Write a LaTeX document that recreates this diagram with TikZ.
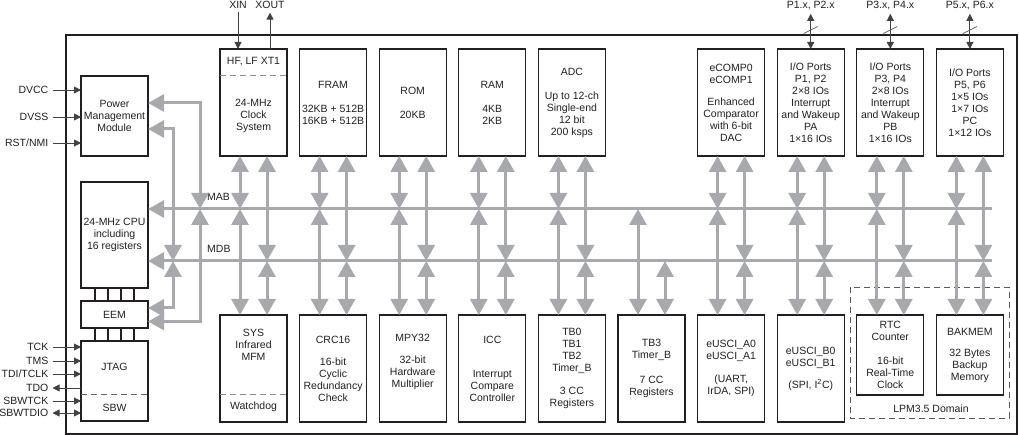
\documentclass[tikz,border=0pt]{standalone}
\usepackage{fontspec}
\setmainfont{Liberation Sans}
\usepackage{tikz}
\usetikzlibrary{positioning,arrows.meta}
\definecolor{ink}{HTML}{231F20}
\definecolor{busgray}{HTML}{A7A9AC}
\definecolor{dashgray}{HTML}{8C8C8C}
\tikzset{
  blk/.style={rectangle, draw=ink, line width=1.3pt, outer sep=0pt, inner sep=0pt,
              minimum width=67pt, minimum height=107pt, align=center, text=ink,
              font=\fontsize{10.5}{12}\selectfont},
  txt/.style={inner sep=0pt, align=center, text=ink, font=\fontsize{10.5}{12}\selectfont},
  pinlbl/.style={anchor=east, inner xsep=4pt, inner ysep=1pt, text=ink,
                 font=\fontsize{10.5}{12}\selectfont},
  toplbl/.style={anchor=base, inner sep=4pt, text=ink, font=\fontsize{10.5}{12}\selectfont},
  pinarr/.style={-{Triangle[length=7pt,width=7pt]}, draw=ink!85, line width=0.9pt},
  pinboth/.style={{Triangle[length=7pt,width=7pt]}-{Triangle[length=7pt,width=7pt]},
                  draw=ink!85, line width=0.9pt},
  slash/.style={draw=ink!70, line width=0.8pt},
  bus/.style={draw=busgray, line width=3pt},
  busarr/.style={bus, -{Triangle[length=16pt,width=17pt]}},
  busboth/.style={bus, {Triangle[length=16pt,width=17pt]}-{Triangle[length=16pt,width=17pt]}},
  sepline/.style={draw=dashgray, line width=1pt, dash pattern=on 6pt off 4pt},
  domainbox/.style={draw=ink!75, line width=0.9pt, dash pattern=on 6pt off 4pt},
  chip/.style={draw=ink, line width=2pt},
  jlink/.style={draw=ink, line width=1.2pt}
}
\begin{document}
\begin{tikzpicture}[x=1pt, y=-1pt, node distance=12.6pt]
\useasboundingbox (0,0) rectangle (1019,435);
\draw[chip] (66,35.5) rectangle (1016.5,433.5);
% upper row of modules
\node[blk, anchor=north west] (clk) at (220,49) {};
\node[blk, right=of clk] (fram) {FRAM\\[12pt]32KB + 512B\\16KB + 512B};
\node[blk, right=of fram] (rom) {ROM\\[12pt]20KB};
\node[blk, right=of rom] (ram) {RAM\\[12pt]4KB\\2KB};
\node[blk, right=of ram] (adc) {ADC\\[12pt]Up to 12-ch\\Single-end\\12 bit\\200 ksps};
\node[blk, right=92.2pt of adc] (ecomp) {eCOMP0\\eCOMP1\\[10pt]Enhanced\\Comparator\\with 6-bit\\DAC};
\node[blk, right=of ecomp] (iopa) {I/O Ports\\P1, P2\\2×8 IOs\\Interrupt\\and Wakeup\\PA\\1×16 IOs};
\node[blk, right=of iopa] (iopb) {I/O Ports\\P3, P4\\2×8 IOs\\Interrupt\\and Wakeup\\PB\\1×16 IOs};
\node[blk, right=of iopb] (iopc) {I/O Ports\\P5, P6\\1×5 IOs\\1×7 IOs\\PC\\1×12 IOs};
\node[txt] (xt1) at (clk.north |- 0,62) {HF, LF XT1};
\node[txt] (cs) at (clk.north |- 0,116) {24-MHz\\Clock\\System};
\draw[sepline] (clk.west |- 0,76) -- (clk.east |- 0,76);
% lower row of modules
\node[blk, below=159pt of clk] (sys) {};
\node[blk, right=of sys] (crc) {CRC16\\[10pt]16-bit\\Cyclic\\Redundancy\\Check};
\node[blk, right=of crc] (mpy) {MPY32\\[10pt]32-bit\\Hardware\\Multiplier\\\strut};
\node[blk, right=of mpy] (icc) {ICC\\[22pt]Interrupt\\Compare\\Controller};
\node[blk, right=of icc] (tb0) {TB0\\TB1\\TB2\\Timer\_B\\[11pt]3 CC\\Registers};
\node[blk, right=of tb0] (tb3) {TB3\\Timer\_B\\[13pt]7 CC\\Registers};
\node[blk, right=of tb3] (uca) {eUSCI\_A0\\eUSCI\_A1\\[11pt](UART,\\IrDA, SPI)};
\node[blk, right=of uca] (ucb) {eUSCI\_B0\\eUSCI\_B1\\[10pt](SPI, I\textsuperscript{2}C)};
\node[blk, minimum height=80pt, right=of ucb.north east, anchor=north west] (rtc) {RTC\\Counter\\[12pt]16-bit\\Real-Time\\Clock};
\node[blk, minimum height=80pt, right=of rtc] (bakmem) {BAKMEM\\[9pt]32 Bytes\\Backup\\Memory};
\node[txt] (sysmfm) at (sys.north |- 0,345) {SYS\\Infrared\\MFM};
\node[txt] (wdt) at (sys.north |- 0,407) {Watchdog};
\draw[sepline] (sys.west |- 0,394) -- (sys.east |- 0,394);
\draw[domainbox] (850,287) rectangle (1009,418);
\node[txt] (lpm) at (931,409) {LPM3.5 Domain};
% left column
\node[blk, minimum height=80pt, anchor=north west] (pmm) at (81,76) {Power\\Management\\Module};
\node[blk, minimum height=106pt, below=26pt of pmm] (cpu) {24-MHz CPU\\including\\16 registers};
\node[blk, minimum height=27pt, below=13pt of cpu] (eem) {EEM};
\node[blk, minimum height=80pt, below=13pt of eem] (jtag) {};
\node[txt] (jtaglbl) at (jtag.north |- 0,367) {JTAG};
\node[txt] (sbw) at (jtag.north |- 0,408) {SBW};
\draw[sepline, draw=ink!70] (jtag.west |- 0,394) -- (jtag.east |- 0,394);
\draw[jlink] ([xshift=-19.5pt]cpu.south) -- ([xshift=-19.5pt]eem.north); \draw[jlink] ([xshift=-6.5pt]cpu.south) -- ([xshift=-6.5pt]eem.north);
\draw[jlink] ([xshift=6.5pt]cpu.south) -- ([xshift=6.5pt]eem.north); \draw[jlink] ([xshift=19.5pt]cpu.south) -- ([xshift=19.5pt]eem.north);
\draw[jlink] ([xshift=-19.5pt]eem.south) -- ([xshift=-19.5pt]jtag.north); \draw[jlink] ([xshift=-6.5pt]eem.south) -- ([xshift=-6.5pt]jtag.north);
\draw[jlink] ([xshift=6.5pt]eem.south) -- ([xshift=6.5pt]jtag.north); \draw[jlink] ([xshift=19.5pt]eem.south) -- ([xshift=19.5pt]jtag.north);
% pins
\node[pinlbl] (dvcc) at (52.5,90) {DVCC};
\node[pinlbl] (dvss) at (52.5,117) {DVSS};
\node[pinlbl] (rst) at (52.5,143) {RST/NMI};
\node[pinlbl] (tck) at (52.5,347) {TCK};
\node[pinlbl] (tms) at (52.5,361) {TMS};
\node[pinlbl] (tdi) at (52.5,374) {TDI/TCLK};
\node[pinlbl] (tdo) at (52.5,388) {TDO};
\node[pinlbl] (sbwtck) at (52.5,401) {SBWTCK};
\node[pinlbl] (sbwtdio) at (52.5,413) {SBWTDIO};
\draw[pinarr] (dvcc.east) -- (dvcc.east -| pmm.west); \draw[pinarr] (dvss.east) -- (dvss.east -| pmm.west);
\draw[pinarr] (rst.east) -- (rst.east -| pmm.west);
\draw[pinarr] (tck.east) -- (tck.east -| jtag.west); \draw[pinarr] (tms.east) -- (tms.east -| jtag.west);
\draw[pinarr] (tdi.east) -- (tdi.east -| jtag.west); \draw[pinarr] (tdo.east -| jtag.west) -- (tdo.east);
\draw[pinarr] (sbwtck.east) -- (sbwtck.east -| jtag.west); \draw[pinboth] (sbwtdio.east) -- (sbwtdio.east -| jtag.west);
\node[toplbl] (xin) at (238,8.3) {XIN};
\node[toplbl] (xout) at (270,8.3) {XOUT};
\draw[pinarr] (xin.south) -- (xin.south |- clk.north); \draw[pinarr] (xout.south |- clk.north) -- (xout.south);
\node[toplbl] (p12) at (iopa.north |- 0,8.3) {P1.x, P2.x};
\node[toplbl] (p34) at (iopb.north |- 0,8.3) {P3.x, P4.x};
\node[toplbl] (p56) at (iopc.north |- 0,8.3) {P5.x, P6.x};
\draw[pinboth] (p12.south) -- coordinate[pos=0.46] (s12) (iopa.north);
\draw[pinboth] (p34.south) -- coordinate[pos=0.46] (s34) (iopb.north);
\draw[pinboth] (p56.south) -- coordinate[pos=0.46] (s56) (iopc.north);
\draw[slash] ([shift={(-7,3.5)}]s12) -- ([shift={(7,-3.5)}]s12); \draw[slash] ([shift={(-7,3.5)}]s34) -- ([shift={(7,-3.5)}]s34);
\draw[slash] ([shift={(-7,3.5)}]s56) -- ([shift={(7,-3.5)}]s56);
% MAB and MDB buses
\coordinate (mab) at (992,209);
\coordinate (mdb) at (992,261);
\coordinate (xa) at (200,0);
\coordinate (xd) at (173,0);
\draw[busarr] (mab) -- (mab -| cpu.east); \draw[busarr] (mdb) -- (mdb -| cpu.east);
\node[txt, anchor=west] (mablbl) at (207,197) {MAB};
\node[txt, anchor=west] (mdblbl) at (207,249) {MDB};
\draw[busboth] ([yshift=13pt]pmm.east) -| (xa |- mab); \draw[busboth] ([yshift=-13pt]pmm.east) -| (xd |- mdb);
\draw[busboth] ([yshift=6.5pt]eem.east) -| (xd |- mdb); \draw[busboth] ([yshift=-7pt]eem.east) -| (xa |- mab);
\draw[busboth] ([xshift=-13.5pt]clk.south) -- ([xshift=-13.5pt]clk.south |- mab); \draw[busboth] ([xshift=13.5pt]clk.south) -- ([xshift=13.5pt]clk.south |- mdb);
\draw[busboth] ([xshift=-13.5pt]fram.south) -- ([xshift=-13.5pt]fram.south |- mab); \draw[busboth] ([xshift=13.5pt]fram.south) -- ([xshift=13.5pt]fram.south |- mdb);
\draw[busboth] ([xshift=-13.5pt]rom.south) -- ([xshift=-13.5pt]rom.south |- mab); \draw[busboth] ([xshift=13.5pt]rom.south) -- ([xshift=13.5pt]rom.south |- mdb);
\draw[busboth] ([xshift=-13.5pt]ram.south) -- ([xshift=-13.5pt]ram.south |- mab); \draw[busboth] ([xshift=13.5pt]ram.south) -- ([xshift=13.5pt]ram.south |- mdb);
\draw[busboth] ([xshift=-13.5pt]adc.south) -- ([xshift=-13.5pt]adc.south |- mab); \draw[busboth] ([xshift=13.5pt]adc.south) -- ([xshift=13.5pt]adc.south |- mdb);
\draw[busboth] ([xshift=-13.5pt]ecomp.south) -- ([xshift=-13.5pt]ecomp.south |- mab); \draw[busboth] ([xshift=13.5pt]ecomp.south) -- ([xshift=13.5pt]ecomp.south |- mdb);
\draw[busboth] ([xshift=-13.5pt]iopa.south) -- ([xshift=-13.5pt]iopa.south |- mab); \draw[busboth] ([xshift=13.5pt]iopa.south) -- ([xshift=13.5pt]iopa.south |- mdb);
\draw[busboth] ([xshift=-13.5pt]iopb.south) -- ([xshift=-13.5pt]iopb.south |- mab); \draw[busboth] ([xshift=13.5pt]iopb.south) -- ([xshift=13.5pt]iopb.south |- mdb);
\draw[busboth] ([xshift=-13.5pt]iopc.south) -- ([xshift=-13.5pt]iopc.south |- mab); \draw[busboth] ([xshift=13.5pt]iopc.south) -- ([xshift=13.5pt]iopc.south |- mdb);
\draw[busboth] ([xshift=-13.5pt]sys.north |- mab) -- ([xshift=-13.5pt]sys.north); \draw[busboth] ([xshift=13.5pt]sys.north |- mdb) -- ([xshift=13.5pt]sys.north);
\draw[busboth] ([xshift=-13.5pt]crc.north |- mab) -- ([xshift=-13.5pt]crc.north); \draw[busboth] ([xshift=13.5pt]crc.north |- mdb) -- ([xshift=13.5pt]crc.north);
\draw[busboth] ([xshift=-13.5pt]mpy.north |- mab) -- ([xshift=-13.5pt]mpy.north); \draw[busboth] ([xshift=13.5pt]mpy.north |- mdb) -- ([xshift=13.5pt]mpy.north);
\draw[busboth] ([xshift=-13.5pt]icc.north |- mab) -- ([xshift=-13.5pt]icc.north); \draw[busboth] ([xshift=13.5pt]icc.north |- mdb) -- ([xshift=13.5pt]icc.north);
\draw[busboth] ([xshift=-13.5pt]tb0.north |- mab) -- ([xshift=-13.5pt]tb0.north); \draw[busboth] ([xshift=13.5pt]tb0.north |- mdb) -- ([xshift=13.5pt]tb0.north);
\draw[busboth] ([xshift=-13.5pt]tb3.north |- mab) -- ([xshift=-13.5pt]tb3.north); \draw[busboth] ([xshift=13.5pt]tb3.north |- mdb) -- ([xshift=13.5pt]tb3.north);
\draw[busboth] ([xshift=-13.5pt]uca.north |- mab) -- ([xshift=-13.5pt]uca.north); \draw[busboth] ([xshift=13.5pt]uca.north |- mdb) -- ([xshift=13.5pt]uca.north);
\draw[busboth] ([xshift=-13.5pt]ucb.north |- mab) -- ([xshift=-13.5pt]ucb.north); \draw[busboth] ([xshift=13.5pt]ucb.north |- mdb) -- ([xshift=13.5pt]ucb.north);
\draw[busboth] ([xshift=-13.5pt]rtc.north |- mab) -- ([xshift=-13.5pt]rtc.north); \draw[busboth] ([xshift=13.5pt]rtc.north |- mdb) -- ([xshift=13.5pt]rtc.north);
\draw[busboth] ([xshift=-13.5pt]bakmem.north |- mab) -- ([xshift=-13.5pt]bakmem.north); \draw[busboth] ([xshift=13.5pt]bakmem.north |- mdb) -- ([xshift=13.5pt]bakmem.north);
\end{tikzpicture}
\end{document}
